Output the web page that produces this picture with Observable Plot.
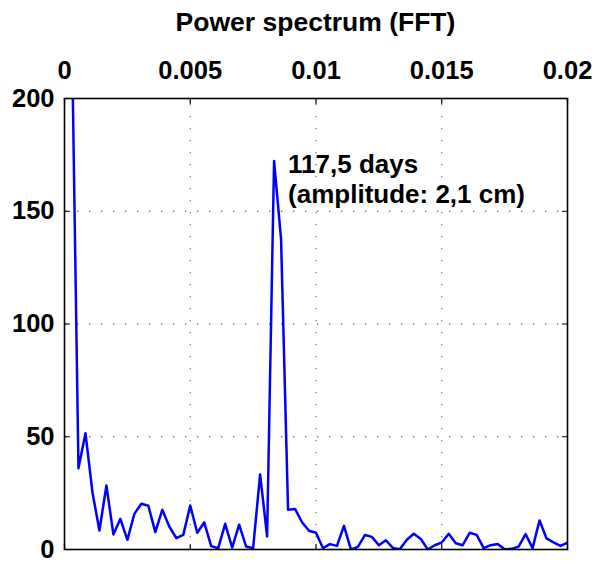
<!DOCTYPE html>
<html>
<head>
<meta charset="utf-8">
<script src="https://cdn.jsdelivr.net/npm/d3@7"></script>
<script src="https://cdn.jsdelivr.net/npm/@observablehq/plot@0.6"></script>
<style>
  html, body { margin: 0; padding: 0; background: white; }
  #wrap { width: 608px; height: 563px; position: relative; font-family: "Liberation Sans", Arial, Helvetica, sans-serif; }
  #title { height: 45px; width: 503px; margin-left: 64px; text-align: center; font-weight: bold; font-size: 26.5px; line-height: 45px; position: relative; top: 0px; color: black; white-space: nowrap; }
  #chart svg { display: block; }
</style>
</head>
<body>
<div id="wrap">
  <div id="title"></div>
  <div id="chart"></div>
</div>
<script>
// Chart title and annotation text
const titleText = "Power spectrum (FFT)";
const annotation = ["117,5 days\n(amplitude: 2,1 cm)"];

// FFT frequency resolution (1/days) and power values for bins 1..72
const binStep = 1 / 3600;
const power = [
  240, 36, 51.6, 25.4, 8.4, 28.4, 6.7, 13.6, 4.3, 15.8,
  20.3, 19.4, 7.7, 17.6, 10.2, 5, 6.5, 19.5, 7.4, 12,
  1.5, 0.6, 11.4, 0.8, 11, 1.3, 0.6, 33.3, 5.8, 172.3,
  137.5, 17.6, 18, 12.1, 8.3, 7.4, 0.6, 2.4, 1.6, 10.5,
  0, 1.2, 6.4, 5.6, 1.9, 4.1, 0.7, 0.1, 4.3, 7,
  4.7, 0, 1.9, 3.1, 7, 2.8, 1.9, 7.4, 6.5, 0.6,
  1.9, 2.4, 0.1, 0.3, 1.3, 6.8, 0.6, 12.9, 4.9, 3.2,
  1.6, 3
];
const peakBin = 30;

// Axis ticks and labels
const xTicks = [0, 0.005, 0.01, 0.015, 0.02];
const xTickLabels = ["0", "0.005", "0.01", "0.015", "0.02"];
const yTicks = [0, 50, 100, 150, 200];
const yTickLabels = ["0", "50", "100", "150", "200"];

const data = power.map((p, i) => ({f: (i + 1) * binStep, p}));
const peak = data[peakBin - 1];

const tickShape = {draw(context, l) { context.moveTo(0, 0); context.lineTo(0, -l); }};
const tickOpts = {stroke: "black", strokeWidth: 1.2, length: 5, anchor: "start", shape: tickShape};

document.getElementById("title").textContent = titleText;

const chart = Plot.plot({
  width: 608,
  height: 518,
  marginTop: 53,
  marginBottom: 14,
  marginLeft: 64,
  marginRight: 41,
  x: {domain: [0, 0.02]},
  y: {domain: [0, 200]},
  style: {fontFamily: "'Liberation Sans', Arial, Helvetica, sans-serif", fontSize: "25px", fontWeight: "bold", color: "black", background: "white", overflow: "visible"},
  marks: [
    Plot.gridX(xTicks.slice(1, -1), {stroke: "#777", strokeOpacity: 1, strokeWidth: 1.3, strokeDasharray: "1.3,10.7", strokeDashoffset: -6}),
    Plot.gridY(yTicks.slice(1, -1), {stroke: "#777", strokeOpacity: 1, strokeWidth: 1.3, strokeDasharray: "1.3,10.7", strokeDashoffset: -1}),
    Plot.line(data, {x: "f", y: "p", stroke: "#0000ff", strokeWidth: 2.5, clip: true}),
    Plot.frame({stroke: "black", strokeWidth: 1.6}),
    Plot.vector(xTicks, {x: d => d, frameAnchor: "top", rotate: 180, ...tickOpts}),
    Plot.vector(xTicks, {x: d => d, frameAnchor: "bottom", rotate: 0, ...tickOpts}),
    Plot.vector(yTicks, {y: d => d, frameAnchor: "left", rotate: 90, ...tickOpts}),
    Plot.vector(yTicks, {y: d => d, frameAnchor: "right", rotate: -90, ...tickOpts}),
    Plot.axisX(xTicks, {anchor: "top", tickSize: 0, tickPadding: 20, label: null, tickFormat: (d) => xTickLabels[xTicks.indexOf(d)], fontSize: 25.5, fontWeight: "bold"}),
    Plot.axisY(yTicks, {anchor: "left", tickSize: 0, tickPadding: 10, label: null, tickFormat: (d) => yTickLabels[yTicks.indexOf(d)], fontSize: 25.5, fontWeight: "bold"}),
    Plot.text(annotation, {x: () => peak.f, y: () => peak.p, text: d => d, dx: 14, dy: 42, textAnchor: "start", lineAnchor: "bottom", lineHeight: 1.17, fontSize: 26, fontWeight: "bold", fill: "black"})
  ]
});
document.getElementById("chart").appendChild(chart);
</script>
</body>
</html>
